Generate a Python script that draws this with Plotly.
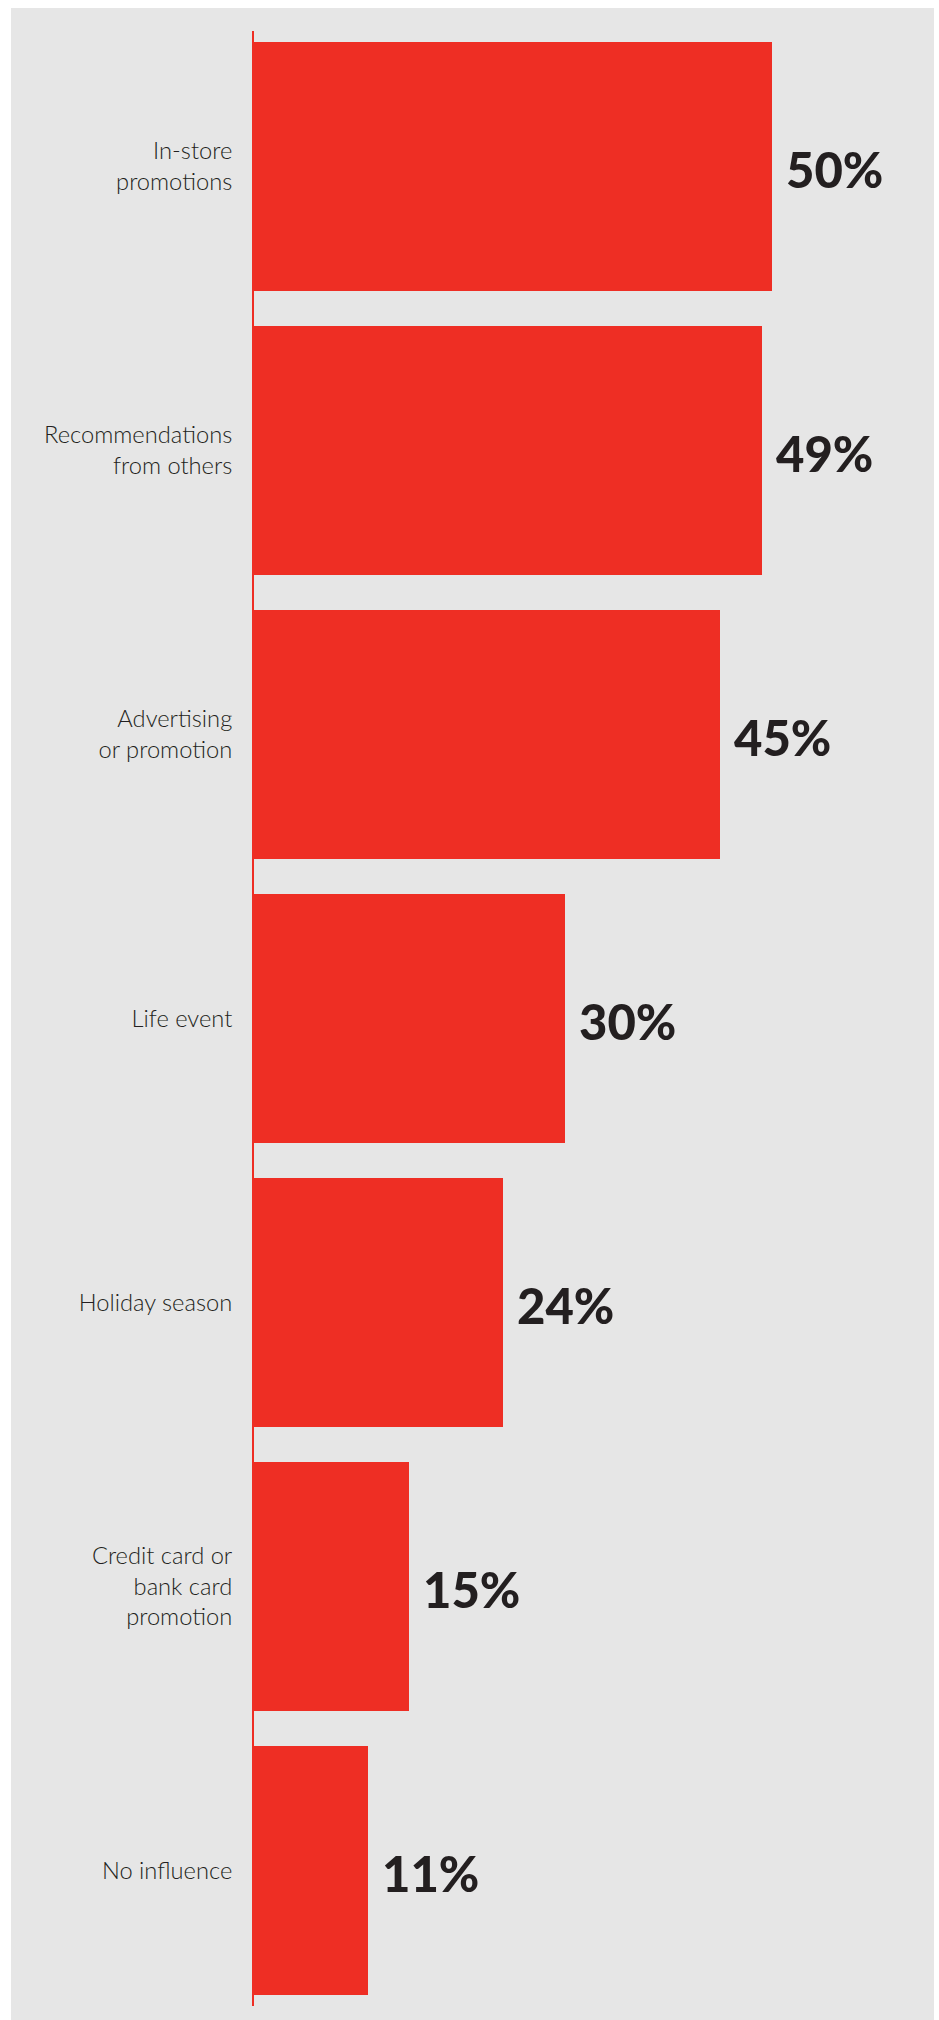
import plotly.graph_objects as go

# Survey: what influenced the purchase decision
categories = [
    "In-store<br>promotions",
    "Recommendations<br>from others",
    "Advertising<br>or promotion",
    "Life event",
    "Holiday season",
    "Credit card or<br>bank card<br>promotion",
    "No influence",
]
values = [50, 49, 45, 30, 24, 15, 11]
value_labels = ["50%", "49%", "45%", "30%", "24%", "15%", "11%"]

RED = "#EE2E24"
PANEL = "#E6E6E6"
INK = "#231F20"

W, H = 939, 2020
ML, MR, MT, MB = 254, 5, 31, 14
PX_PER_PCT = 10.36

fig = go.Figure(
    go.Bar(
        x=values,
        y=categories,
        orientation="h",
        marker=dict(color=RED, line=dict(width=0)),
        width=0.876,
        hoverinfo="skip",
    )
)

for cat, v, lab in zip(categories, values, value_labels):
    fig.add_annotation(
        x=v, y=cat, text=lab, showarrow=False,
        xanchor="left", yanchor="middle", xshift=12, yshift=-3,
        font=dict(family="Lato", size=49, color=INK, weight=900),
    )

# light grey panel behind the chart
plot_w = W - ML - MR
plot_h = H - MT - MB
fig.add_shape(
    type="rect", xref="paper", yref="paper", layer="below",
    x0=(11 - ML) / plot_w, x1=1.0,
    y0=-(MB) / plot_h, y1=(H - MB - 8) / plot_h,
    fillcolor=PANEL, line=dict(width=0),
)

fig.update_layout(
    width=W, height=H,
    margin=dict(l=ML, r=MR, t=MT, b=MB, pad=0),
    paper_bgcolor="white",
    plot_bgcolor="rgba(0,0,0,0)",
    showlegend=False,
    bargap=0,
    xaxis=dict(
        range=[0, plot_w / PX_PER_PCT],
        showgrid=False, zeroline=False, showticklabels=False,
        showline=False, fixedrange=True,
    ),
    yaxis=dict(
        type="category",
        range=[6.478, -0.476],
        showgrid=False, zeroline=False,
        showline=True, linecolor=RED, linewidth=2,
        ticks="", ticklabelstandoff=15,
        tickfont=dict(family="Lato", size=23.7, color=INK, weight=300),
        fixedrange=True,
    ),
)

fig.write_html("out.html")
